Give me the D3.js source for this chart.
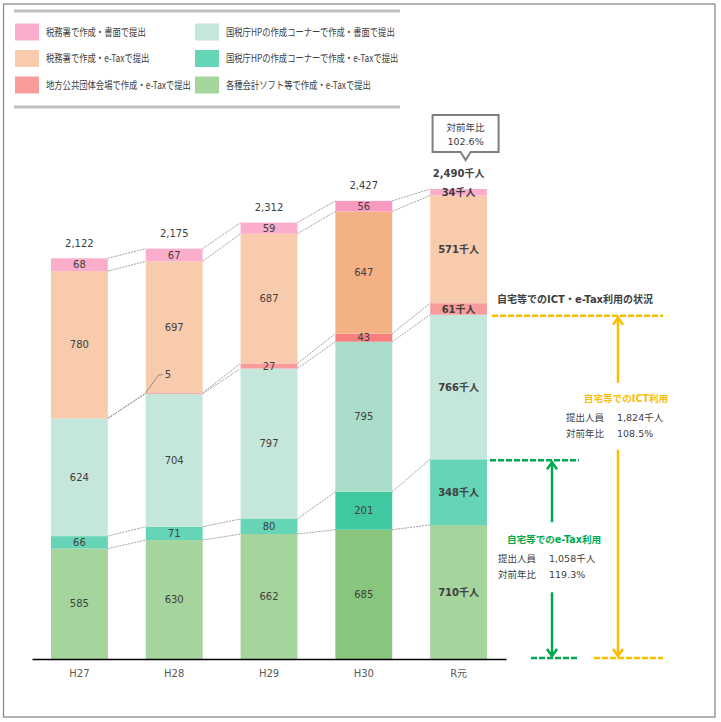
<!DOCTYPE html>
<html><head><meta charset="utf-8">
<script src="https://cdn.jsdelivr.net/npm/d3@7"></script>
<style>body{margin:0;background:#fff} svg{display:block}</style>
</head><body>
<script>
// ---- data ----
const years = ["H27","H28","H29","H30","R元"];
const seriesKeys = ["soft","hpEtax","hpPaper","local","officeEtax","officePaper"];
const seriesNames = ["各種会計ソフト等で作成・e-Taxで提出","国税庁HPの作成コーナーで作成・e-Taxで提出","国税庁HPの作成コーナーで作成・書面で提出","地方公共団体会場で作成・e-Taxで提出","税務署で作成・e-Taxで提出","税務署で作成・書面で提出"];
const softEtax    = [585,630,662,685,710];
const hpEtax      = [66,71,80,201,348];
const hpPaper     = [624,704,797,795,766];
const localEtax   = [0,5,27,43,61];
const officeEtax  = [780,697,687,647,571];
const officePaper = [68,67,59,56,34];
const totals = [2122,2175,2312,2427,2490];
const totalLabels = ["2,122","2,175","2,312","2,427","2,490千人"];
const yoyTitle = "対前年比", yoyTotal = "102.6%";
const ictTitle = "自宅等でのICT利用", ictCount = "1,824千人", ictYoy = "108.5%";
const etaxTitle = "自宅等でのe-Tax利用", etaxCount = "1,058千人", etaxYoy = "119.3%";
const sideTitle = "自宅等でのICT・e-Tax利用の状況";
const legendOrder = [5,4,3,2,1,0];

// ---- styles ----
const colors = ["#a6d49d","#66d4b6","#c5e6da","#f89b9b","#f9cbad","#fbaecb"];
const hiColors = ["#89c67d","#40c9a1","#abdcc9","#f57f7f","#f4b184","#f79ac0"];
const hiIndex = 3;
const NUM = "'DejaVu Sans','Noto Sans CJK JP',sans-serif";
const JP = "'Noto Sans CJK JP',sans-serif";
const txt = "#404040";
const YEL = "#fabe00", GRN = "#00a94f";

const W = 721, H = 722;
const svg = d3.select("body").append("svg").attr("width", W).attr("height", H);

// frame
svg.append("rect").attr("x",3.5).attr("y",4).attr("width",711.5).attr("height",713)
  .attr("fill","none").attr("stroke","#8c8c8c").attr("stroke-width",1.3);
[11,107].forEach(yy => svg.append("line").attr("x1",14).attr("x2",400).attr("y1",yy).attr("y2",yy)
  .attr("stroke","#c0c0c0").attr("stroke-width",3));

// legend
const lg = svg.append("g");
legendOrder.forEach((si, j) => {
  const col = Math.floor(j/3), row = j%3;
  const lx = col ? 195 : 15, ly = 32 + row*26.5;
  lg.append("rect").attr("x",lx).attr("y",ly-8.5).attr("width",24).attr("height",17).attr("fill",colors[si]);
  lg.append("text").attr("transform",`translate(${lx+31},${ly+3.7}) scale(0.8,1)`)
    .attr("font-family",JP).attr("font-size",10.4).attr("fill",txt).text(seriesNames[si]);
});

// table
const table = years.map((yr,i) => ({year: yr, soft: softEtax[i], hpEtax: hpEtax[i], hpPaper: hpPaper[i],
  local: localEtax[i], officeEtax: officeEtax[i], officePaper: officePaper[i]}));
const stacked = d3.stack().keys(seriesKeys)(table);

const x = d3.scaleBand().domain(years).range([32,506]).paddingInner(0.4).paddingOuter(0.2);
const y = d3.scaleLinear().domain([0,2490]).range([659,189]);
const bw = x.bandwidth();

// connector lines
const conn = svg.append("g").attr("stroke","#7a7a7a").attr("stroke-width",0.7).attr("stroke-dasharray","2,1").attr("fill","none");
stacked.forEach(layer => {
  for (let i=0;i<years.length-1;i++){
    conn.append("line").attr("x1",x(years[i])+bw).attr("y1",y(layer[i][1]))
      .attr("x2",x(years[i+1])).attr("y2",y(layer[i+1][1]));
  }
});

// bars
stacked.forEach((layer, si) => {
  svg.append("g").selectAll("rect").data(layer).join("rect")
    .attr("x", d => x(d.data.year)).attr("width", bw)
    .attr("y", d => y(d[1])).attr("height", d => y(d[0]) - y(d[1]))
    .attr("fill", (d,i) => i===hiIndex ? hiColors[si] : colors[si]);
});

// segment labels
const last = years.length-1;
stacked.forEach(layer => {
  layer.forEach((d,i) => {
    const v = d[1]-d[0];
    if (v <= 0) return;
    const cx = x(d.data.year)+bw/2, cy = (y(d[0])+y(d[1]))/2;
    if (v < 10) {
      const bx = x(d.data.year), by = y(d[1]);
      svg.append("polyline").attr("points",`${bx},${by} ${bx+13},${by-18} ${bx+17},${by-18}`)
        .attr("fill","none").attr("stroke","#7a7a7a").attr("stroke-width",0.8);
      svg.append("text").attr("x",bx+19).attr("y",by-18).attr("dy","0.36em")
        .attr("font-family",NUM).attr("font-size",10).attr("fill",txt).text(v);
      return;
    }
    svg.append("text").attr("x",cx).attr("y",cy).attr("dy","0.36em").attr("text-anchor","middle")
      .attr("font-family",NUM).attr("font-size",10).attr("fill",txt)
      .attr("font-weight", i===last ? "bold" : "normal")
      .text(i===last ? v + "千人" : v);
  });
});

// totals
years.forEach((yr,i) => {
  svg.append("text").attr("x",x(yr)+bw/2).attr("y",y(totals[i])-15.5).attr("dy","0.36em")
    .attr("text-anchor","middle").attr("font-family",NUM).attr("font-size",10).attr("fill",txt)
    .attr("font-weight", i===last ? "bold":"normal").text(totalLabels[i]);
});

// callout
{
  const cx = x(years[last])+bw/2+7, top = y(totals[last]) - 74;
  svg.append("path").attr("d",`M${cx-33},${top} H${cx+33} V${top+37} H${cx+5} L${cx},${top+45} L${cx-5},${top+37} H${cx-33} Z`)
    .attr("fill","#fff").attr("stroke","#7f7f7f").attr("stroke-width",2).attr("stroke-linejoin","miter");
  svg.append("text").attr("x",cx).attr("y",top+12.5).attr("dy","0.36em").attr("text-anchor","middle")
    .attr("font-family",JP).attr("font-size",9.5).attr("fill",txt).text(yoyTitle);
  svg.append("text").attr("x",cx).attr("y",top+27).attr("dy","0.36em").attr("text-anchor","middle")
    .attr("font-family",NUM).attr("font-size",9.5).attr("fill",txt).text(yoyTotal);
}

// axis
const ax = svg.append("g").attr("transform",`translate(0,${y(0)})`)
  .call(d3.axisBottom(x).tickSize(0).tickPadding(10.5));
ax.select(".domain").attr("stroke","#000").attr("stroke-width",1.3);
ax.selectAll("text").attr("font-family",NUM).attr("font-size",10).attr("fill","#595959");

// right annotations
const ictVal = softEtax[last]+hpEtax[last]+hpPaper[last];
const etaxVal = softEtax[last]+hpEtax[last];
const yI = y(ictVal), yE = y(etaxVal), y0 = y(0)-1;
svg.append("text").attr("x",497).attr("y",yI-15).attr("dy","0.36em").attr("font-family",NUM)
  .attr("font-size",10).attr("font-weight","bold").attr("fill",txt).text(sideTitle);

function dash(x1,x2,yy,c){
  svg.append("line").attr("x1",x1).attr("x2",x2).attr("y1",yy).attr("y2",yy)
    .attr("stroke",c).attr("stroke-width",2.6).attr("stroke-dasharray","6,2");
}
function arrow(ax_, ya, yb, dir, c){
  svg.append("line").attr("x1",ax_).attr("x2",ax_).attr("y1",ya).attr("y2",yb).attr("stroke",c).attr("stroke-width",2.5);
  const tip = dir<0 ? ya : yb;
  const s = dir<0 ? 1 : -1;
  svg.append("polyline").attr("points",`${ax_-5},${tip+8*s} ${ax_},${tip+1*s} ${ax_+5},${tip+8*s}`)
    .attr("fill","none").attr("stroke",c).attr("stroke-width",2.5);
}
dash(492,663,yI+1,YEL);
dash(490,579,yE+1,GRN);
dash(531,578,y0,GRN);
dash(594,663,y0,YEL);

const axY = 618, axG = 552;
arrow(axY, yI+2, yI+68, -1, YEL);
arrow(axY, yI+135, y0-1, 1, YEL);
arrow(axG, yE+2, yE+63, -1, GRN);
arrow(axG, yE+133, y0-1, 1, GRN);

function block(cxTitle, xLeft, xVal, yT, title, c, count, yoy){
  svg.append("text").attr("x",cxTitle).attr("y",yT).attr("dy","0.36em").attr("text-anchor","middle")
    .attr("font-family",NUM).attr("font-size",9.6).attr("font-weight","bold").attr("fill",c).text(title);
  [["提出人員",count],["対前年比",yoy]].forEach((p,k) => {
    const yy = yT + 19 + k*16;
    svg.append("text").attr("x",xLeft).attr("y",yy).attr("dy","0.36em").attr("font-family",JP)
      .attr("font-size",9.5).attr("fill",txt).text(p[0]);
    svg.append("text").attr("x",xVal).attr("y",yy).attr("dy","0.36em").attr("font-family",NUM)
      .attr("font-size",9.5).attr("fill",txt).text(p[1]);
  });
}
block(626, 566, 617, yI+84, ictTitle, YEL, ictCount, ictYoy);
block(554, 498, 549, yE+80, etaxTitle, GRN, etaxCount, etaxYoy);
</script>
</body></html>
